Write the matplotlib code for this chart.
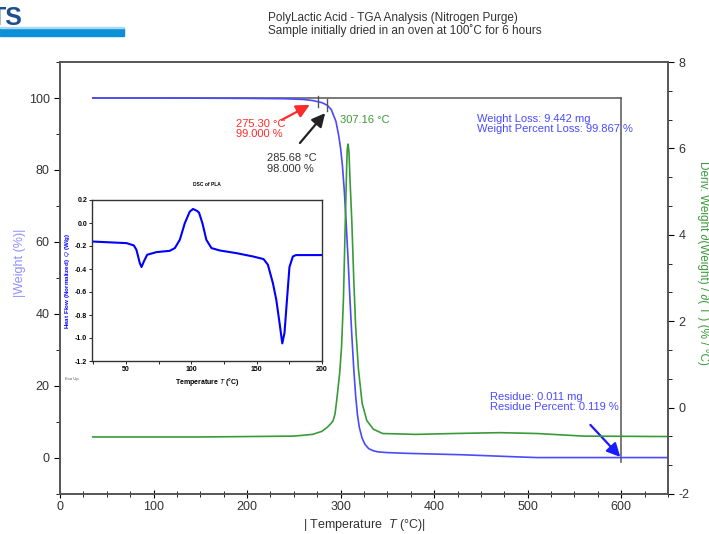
import numpy as np
import matplotlib
matplotlib.use('Agg')
import matplotlib.pyplot as plt
from matplotlib.ticker import MultipleLocator, AutoMinorLocator
from matplotlib.patches import Rectangle

plt.rcParams['font.family'] = ['Liberation Sans', 'DejaVu Sans']
plt.rcParams['mathtext.fontset'] = 'custom'
plt.rcParams['mathtext.it'] = 'Liberation Sans:italic'
plt.rcParams['axes.unicode_minus'] = False

# TGA weight (%) vs temperature
tga_T = [35, 100, 150, 200, 240, 260, 270, 275.3, 280, 285.68, 290, 295, 298, 300, 302, 304,
         306, 308, 310, 312, 314, 316, 318, 320, 323, 326, 330, 335, 340, 350, 370, 400, 430,
         460, 490, 510, 550, 600, 650]
tga_W = [100, 100, 99.95, 99.9, 99.8, 99.6, 99.3, 99.0, 98.7, 98.0, 96.8, 93.5, 89.5, 86, 81, 74,
         65, 55, 44, 34, 25, 17.5, 12, 8.5, 5.5, 3.8, 2.6, 2.0, 1.7, 1.5, 1.3, 1.1, 0.9,
         0.6, 0.3, 0.12, 0.12, 0.12, 0.12]

# derivative weight (%/°C)
dtg_T = [35, 150, 250, 270, 280, 286, 290, 292, 294, 296, 299, 301, 303, 305, 306.5, 307.16, 308,
         309, 310, 312, 314, 316, 319, 323, 328, 335, 345, 380, 420, 470, 510, 560, 650]
dtg_D = [-0.68, -0.68, -0.66, -0.62, -0.55, -0.45, -0.36, -0.3, -0.15, 0.2, 0.8, 1.4, 2.5, 4.3, 5.6, 6.0, 6.1,
         5.9, 5.3, 4.3, 3.0, 1.9, 0.9, 0.1, -0.3, -0.5, -0.6, -0.62, -0.6, -0.58, -0.6, -0.66, -0.67]

# DSC inset
dsc_T = [24, 50.5, 56, 58, 60.6, 61.9, 63.7, 66.2, 73.4, 83.5, 87.4, 91.2, 95, 98.8, 101.3, 104.4,
         105.9, 108.5, 111.5, 115.4, 121.8, 134.5, 147.2, 155.3, 158.6, 162.4, 165, 167.5, 169.6,
         171.3, 173.4, 175.1, 177.7, 180, 200]
dsc_Q = [-0.161, -0.175, -0.195, -0.233, -0.35, -0.383, -0.334, -0.276, -0.253, -0.242, -0.218,
         -0.146, -0.002, 0.099, 0.122, 0.105, 0.09, -0.002, -0.146, -0.218, -0.239, -0.262, -0.291,
         -0.314, -0.363, -0.522, -0.666, -0.868, -1.047, -0.955, -0.637, -0.383, -0.291, -0.279,
         -0.279]

onset_T = [275.30, 285.68]
onset_W = [99.0, 98.0]
peak_T = 307.16
end_T = 600

blue = '#4a4aff'
green = '#3a9a3a'
grey = '#555555'

fig = plt.figure(figsize=(7.09, 5.34), dpi=100)

# logo remnant
fig.patches.append(Rectangle((0, 1 - 36 / 534), 124 / 709, 8 / 534, transform=fig.transFigure,
                             color='#0a8fd8', zorder=5))
fig.patches.append(Rectangle((0, 1 - 28 / 534), 124 / 709, 1.5 / 534, transform=fig.transFigure,
                             color='#a9d8f2', zorder=5))
fig.text(-9 / 709, 1 - 25 / 534, 'TS', fontsize=18, fontweight='bold', color='#1f4e8c',
         ha='left', va='baseline')

fig.text(268 / 709, 1 - 12 / 534,
         'PolyLactic Acid - TGA Analysis (Nitrogen Purge)\nSample initially dried in an oven at 100\u02daC for 6 hours',
         fontsize=8.5, color='#333333', ha='left', va='top', linespacing=1.05)

ax = fig.add_axes([60 / 709, 40 / 534, 608 / 709, 432 / 534])
ax2 = ax.twinx()

ax.set_xlim(0, 650)
ax.set_ylim(-10, 110)
ax2.set_ylim(-2, 8)

ax.plot([35, end_T], [100, 100], color=grey, lw=1.1, zorder=1)
ax.plot([end_T, end_T], [100, -1.2], color=grey, lw=1.1, zorder=1)
ax.plot(tga_T, tga_W, color=blue, lw=1.2, zorder=3)
for t, w, h in zip(onset_T, onset_W, [1.5, 1.7]):
    ax.plot([t, t], [w - h, w + h], color=grey, lw=1.0, zorder=4)
ax2.plot(dtg_T, dtg_D, color=green, lw=1.2)

ax.xaxis.set_major_locator(MultipleLocator(100))
ax.xaxis.set_minor_locator(AutoMinorLocator(4))
ax.yaxis.set_major_locator(MultipleLocator(20))
ax.yaxis.set_minor_locator(AutoMinorLocator(2))
ax2.yaxis.set_major_locator(MultipleLocator(2))
ax2.yaxis.set_minor_locator(AutoMinorLocator(3))
ax.tick_params(axis='x', which='major', direction='inout', length=6, labelsize=9, labelcolor='#333333', pad=2)
ax.tick_params(axis='x', which='minor', direction='inout', length=4)
ax.tick_params(axis='y', which='major', direction='out', length=4, labelsize=9, labelcolor='#333333')
ax.tick_params(axis='y', which='minor', direction='out', length=3)
ax2.tick_params(axis='y', which='major', direction='out', length=4, labelsize=9, labelcolor='#333333')
ax2.tick_params(axis='y', which='minor', direction='out', length=3)
for a in (ax, ax2):
    for s in a.spines.values():
        s.set_color(grey)
        s.set_linewidth(1.2)

fig.text(364 / 709, 1 - 525 / 534, '| Temperature  $T$ (°C)|', fontsize=9, color='#333333',
         ha='center', va='center')
fig.text(20 / 709, 0.5 + 4 / 534, '|Weight (%)|', rotation=90, fontsize=9, color='#8f8fff',
         ha='center', va='center')
fig.text(703 / 709, 0.5 + 4 / 534, 'Deriv. Weight \u2202(Weight) / \u2202( T ) (% / °C)', rotation=270,
         fontsize=8.5, color=green, ha='center', va='center')

arrow_kw = dict(arrowstyle='-|>', mutation_scale=20, lw=1.6, shrinkA=0, shrinkB=0)
ax.annotate('', xy=(267, 98.1), xytext=(237, 93.9),
            arrowprops=dict(color='#ff2a2a', **arrow_kw))
ax.text(188, 94.2, f'{onset_T[0]:.2f} °C\n{onset_W[0]:.3f} %', color='#ff2a2a', fontsize=8,
        ha='left', va='top', linespacing=1.05)
ax.annotate('', xy=(283.5, 95.8), xytext=(256.5, 87.5),
            arrowprops=dict(color='#222222', **arrow_kw))
ax.text(221.5, 84.6, f'{onset_T[1]:.2f} °C\n{onset_W[1]:.3f} %', color='#333333', fontsize=8,
        ha='left', va='top', linespacing=1.05)
ax.text(299.5, 93.9, f'{peak_T:.2f} °C', color=green, fontsize=8, ha='left', va='center')
ax.text(446, 95.6, 'Weight Loss: 9.442 mg\nWeight Percent Loss: 99.867 %', color=blue, fontsize=8,
        ha='left', va='top', linespacing=1.0)
ax.text(460, 18.3, 'Residue: 0.011 mg\nResidue Percent: 0.119 %', color=blue, fontsize=8,
        ha='left', va='top', linespacing=1.0)
ax.annotate('', xy=(599, 0.3), xytext=(567, 9.2),
            arrowprops=dict(color='#1a1aff', **arrow_kw))

# DSC inset
axi = fig.add_axes([92 / 709, 1 - 361 / 534, 230 / 709, 161 / 534])
axi.plot(dsc_T, dsc_Q, color='#0000ff', lw=1.5)
axi.set_xlim(24, 200)
axi.set_ylim(-1.2, 0.2)
axi.xaxis.set_major_locator(MultipleLocator(50))
axi.xaxis.set_minor_locator(AutoMinorLocator(2))
axi.yaxis.set_major_locator(MultipleLocator(0.2))
axi.yaxis.set_major_formatter(plt.FuncFormatter(lambda v, p: f'{v:.1f}'))
axi.tick_params(which='both', labelsize=5, length=2, width=0.6, pad=1.5)
for lab in axi.get_xticklabels() + axi.get_yticklabels():
    lab.set_fontweight('bold')
for s in axi.spines.values():
    s.set_color('#333333')
    s.set_linewidth(1.0)
axi.set_title('DSC of PLA', fontsize=3.5, fontweight='bold', pad=10)
axi.set_xlabel('Temperature $T$ (°C)', fontsize=5, fontweight='bold', labelpad=2)
axi.set_ylabel('Heat Flow (Normalized)  $Q$ (W/g)', fontsize=4.5, fontweight='bold', color='#0000ff',
               labelpad=2)
fig.text(65 / 709, 1 - 379 / 534, 'Exo Up', fontsize=3, color='#555555', ha='left', va='center')

fig.savefig('out.png', dpi=100)
